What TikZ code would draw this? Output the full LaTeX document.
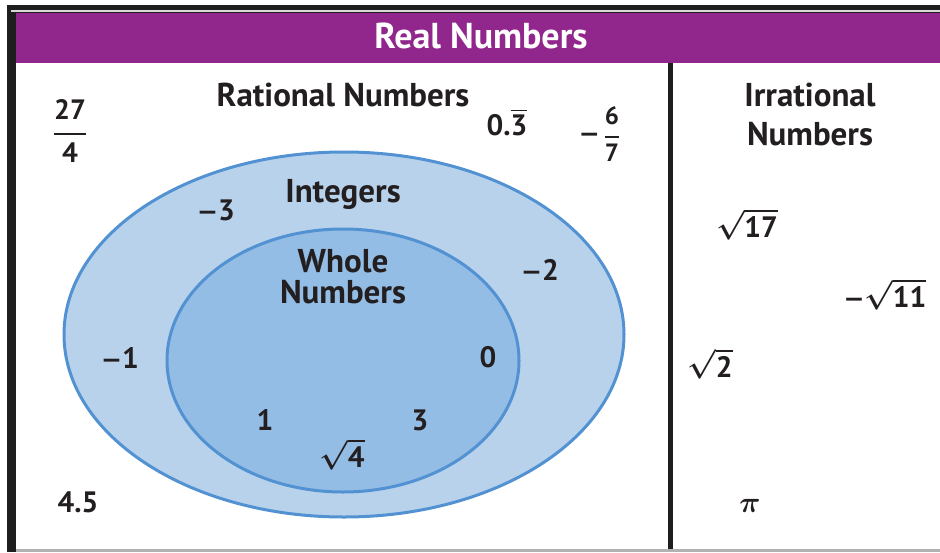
\RequirePackage{fix-cm}
\documentclass[tikz,border=0pt]{standalone}
\usepackage{amsmath}
\usepackage{fontspec}
\setmainfont{PT Sans}
\newfontfamily\symfont{DejaVu Sans}
\newcommand\mns{{\symfont\fontsize{25}{28}\selectfont −}}
\definecolor{purp}{RGB}{145,38,141}
\definecolor{ink}{RGB}{35,31,32}
\definecolor{frame}{RGB}{30,30,30}
\definecolor{outerfill}{RGB}{184,210,236}
\definecolor{innerfill}{RGB}{148,189,229}
\definecolor{edgeblue}{RGB}{82,146,210}
\tikzset{
  lbl/.style={text=ink, inner sep=0pt, anchor=base, align=center,
    font=\fontsize{33}{39}\selectfont\bfseries\boldmath},
  inlbl/.style={lbl, font=\fontsize{33}{31}\selectfont\bfseries\boldmath},
  num/.style={text=ink, inner sep=0pt, anchor=base,
    font=\fontsize{29.5}{32}\selectfont\bfseries\boldmath},
  setedge/.style={draw=edgeblue, line width=3pt}
}
\begin{document}
\begin{tikzpicture}[x=1pt,y=-1pt]
\useasboundingbox (0,0) rectangle (940,552);
% frame
\fill[white] (0,0) rectangle (940,552);
\fill[frame] (7,5) rectangle (940,14);
\fill[frame] (7,5) rectangle (16,552);
\fill[black!15] (11,9.5) rectangle (940,11.5);
\fill[purp] (16,13) rectangle (940,63);
\fill[gray!60] (16,549) rectangle (940,552);
\fill[frame] (668,63) rectangle (673,549);
% sets
\draw[setedge, fill=outerfill] (344,334.5) ellipse [x radius=280, y radius=182.5];
\draw[setedge, fill=innerfill] (343,360.5) ellipse [x radius=176, y radius=131.5];
% titles
\node[lbl, text=white, font=\fontsize{36}{40}\selectfont\bfseries] (real) at (481,48) {Real Numbers};
\node[lbl] (rat) at (343,106) {Rational Numbers};
\node[lbl] (irr) at (810,145) {Irrational\\Numbers};
\node[inlbl] (int) at (343,202) {Integers};
\node[inlbl] (whole) at (343,303) {Whole\\Numbers};
% rationals outside integers
\node[num, anchor=center, font=\fontsize{28}{30}\selectfont\bfseries\boldmath] (f274) at (70,131) {$\genfrac{}{}{2pt}{0}{\text{27}}{\text{4}}$};
\node[num] (rep) at (507,135) {0.$\overline{\text{3}}$};
\node[num, anchor=base east] (m67) at (600,142) {\mns};
\node[num, anchor=center, font=\fontsize{25}{28}\selectfont\bfseries\boldmath] (f67) at (612,134) {$\genfrac{}{}{2pt}{0}{\text{6}}{\text{7}}$};
\node[num] (dec) at (78,512) {4.5};
% integers
\node[num] (m3) at (216,220) {\mns3};
\node[num] (m2) at (540,280) {\mns2};
\node[num] (m1) at (120,368) {\mns1};
% whole numbers
\node[num] (zero) at (488,367) {0};
\node[num] (one) at (265,430) {1};
\node[num] (three) at (420,430) {3};
\node[num] (sq4) at (342,467) {$\sqrt{\text{4}}$};
% irrationals
\node[num] (sq17) at (747,237) {$\sqrt{\text{17}}$};
\node[num] (msq11) at (885,307) {\mns$\sqrt{\text{11}}$};
\node[num] (sq2) at (710,377) {$\sqrt{\text{2}}$};
\node[num] (pi) at (750,512) {$\pi$};
\end{tikzpicture}
\end{document}
